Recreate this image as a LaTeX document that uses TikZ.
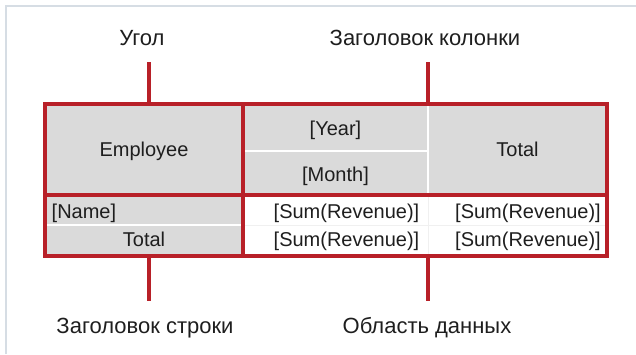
\documentclass[tikz,border=0pt]{standalone}
\usepackage{fontspec}
\setmainfont{Liberation Sans}
\usetikzlibrary{positioning}
\definecolor{frame}{RGB}{184,32,40}
\definecolor{hdr}{RGB}{218,218,218}
\definecolor{rim}{RGB}{214,221,228}
\definecolor{ink}{RGB}{30,30,30}

\begin{document}
\begin{tikzpicture}[x=1pt,y=-1pt,font=\fontsize{20}{24}\selectfont,
  redline/.style={draw=frame,line width=4pt},
  lead/.style={draw=frame,line width=4pt},
  sep/.style={draw=white,line width=2pt},
  faint/.style={draw=black!6,line width=1pt},
  txt/.style={text=ink,inner sep=0pt},
  captxt/.style={txt,font=\fontsize{22}{26}\selectfont}]
  \useasboundingbox (0,0) rectangle (636,354);
  % page rim
  \draw[rim,line width=1.5pt] (6,354) -- (6,6) -- (636,6);

  % header cells
  \fill[hdr] (45,104) rectangle (607,195);
  \fill[hdr] (45,195) rectangle (243,256);
  \draw[sep] (243,151) -- (428,151);
  \draw[sep] (428,104) -- (428,195);
  \draw[sep] (45,225) -- (243,225);
  \draw[faint] (243,225) -- (605,225);
  \draw[faint] (428,197) -- (428,254);

  % frame
  \draw[redline] (45,104) rectangle (607,256);
  \draw[redline] (45,195) -- (607,195);
  \draw[redline] (243,104) -- (243,256);

  % cell texts
  \node[txt,anchor=base] (employee) at (144,156.7) {Employee};
  \node[txt,anchor=base] (year) at (335.5,135) {[Year]};
  \node[txt,anchor=base] (month) at (335.5,181.7) {[Month]};
  \node[txt,anchor=base] (coltotal) at (517.5,156) {Total};
  \node[txt,anchor=base west] (name) at (51.5,218) {[Name]};
  \node[txt,anchor=base] (rowtotal) at (144,246.7) {Total};
  \foreach \r/\y in {1/218,2/246.7} {
    \node[txt,anchor=base east] (sum\r a) at (419.5,\y) {[Sum(Revenue)]};
    \node[txt,anchor=base east] (sum\r b) at (601,\y) {[Sum(Revenue)]};
  }

  % captions
  \node[captxt,anchor=base] (corner) at (142,45) {Угол};
  \node[captxt,anchor=base] (colhead) at (425,45) {Заголовок колонки};
  \node[captxt,anchor=base] (rowhead) at (145,333.3) {Заголовок строки};
  \node[captxt,anchor=base] (dataarea) at (427,333.3) {Область данных};

  % leaders
  \foreach \n/\x/\ya/\yb in {corner/149/62/104,colhead/428/62/104,
                             rowhead/149/256/301,dataarea/428/256/301} {
    \coordinate (\n-a) at (\x,\ya);
    \coordinate (\n-b) at (\x,\yb);
    \draw[lead] (\n-a) -- (\n-b);
  }
\end{tikzpicture}
\end{document}
